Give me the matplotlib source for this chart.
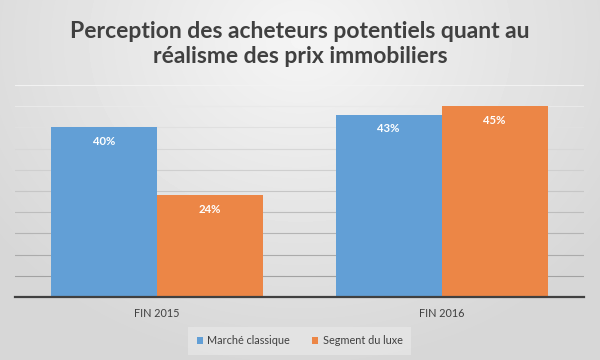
import numpy as np
from matplotlib import pyplot as plt

# Data
categories = ["FIN 2015", "FIN 2016"]
series_names = ["Marché classique", "Segment du luxe"]
classique = [40, 43]
luxe = [24, 45]
title = "Perception des acheteurs potentiels quant au\nréalisme des prix immobiliers"

colors = ["#629fd6", "#ec8646"]

plt.rcParams['font.family'] = ['Lato', 'DejaVu Sans']

fig = plt.figure(figsize=(6, 3.6), dpi=100)

# Radial grey background, like the Office chart style
bg = fig.add_axes([0, 0, 1, 1], zorder=-10)
yy, xx = np.mgrid[0:360, 0:600]
r = np.sqrt(((xx - 300) / 420.0) ** 2 + ((yy - 40) / 360.0) ** 2)
shade = np.clip(0.96 - 0.13 * r, 0.84, 0.96)
bg.imshow(shade, cmap="gray", vmin=0, vmax=1, aspect="auto")
bg.axis("off")

ax = fig.add_axes([0.025, 0.175, 0.9483, 0.589])
ax.patch.set_alpha(0)

x = np.arange(len(categories))
w = 0.3726
b1 = ax.bar(x - w / 2, classique, w, color=colors[0], label=series_names[0],
            edgecolor="none", zorder=3)
b2 = ax.bar(x + w / 2, luxe, w, color=colors[1], label=series_names[1],
            edgecolor="none", zorder=3)

for bars, vals in [(b1, classique), (b2, luxe)]:
    for rect, v in zip(bars, vals):
        ax.annotate("{}%".format(v), (rect.get_x() + rect.get_width() / 2, v),
                    xytext=(0, -10), textcoords="offset points",
                    ha="center", va="center", color="white",
                    fontsize=8.2, fontweight="bold", zorder=4)

ax.set_xlim(-0.5, 1.5)
ax.set_ylim(0, 50)
ax.set_yticks(np.arange(0, 51, 5))
ax.set_yticklabels([])
ax.tick_params(axis="y", length=0)
ax.tick_params(axis="x", length=0, pad=8, labelsize=7.8, labelcolor="#404040")
ax.set_xticks(x)
ax.set_xticklabels(categories)

ax.grid(True, axis="y", linewidth=0.8, zorder=0)
gl = ax.get_ygridlines()
for i, line in enumerate(gl):
    g = 0.60 + 0.035 * i
    line.set_color((g, g, g))

for side in ["left", "right", "top"]:
    ax.spines[side].set_visible(False)
ax.spines["bottom"].set_color("#404040")
ax.spines["bottom"].set_linewidth(1.6)
ax.spines["bottom"].set_zorder(5)

fig.suptitle(title, y=0.943, fontsize=16.5, fontweight="bold", color="#404040",
             linespacing=1.25)

leg = ax.legend(loc="upper center", bbox_to_anchor=(0.5, -0.13), ncol=2,
                frameon=True, fontsize=7.8, handlelength=0.6, handleheight=0.6,
                columnspacing=2.0, handletextpad=0.4, borderpad=0.5)
leg.get_frame().set_facecolor("#e6e6e6")
leg.get_frame().set_edgecolor("none")
leg.get_frame().set_boxstyle("square")
for t in leg.get_texts():
    t.set_color("#404040")

plt.savefig("out.png", dpi=100)
